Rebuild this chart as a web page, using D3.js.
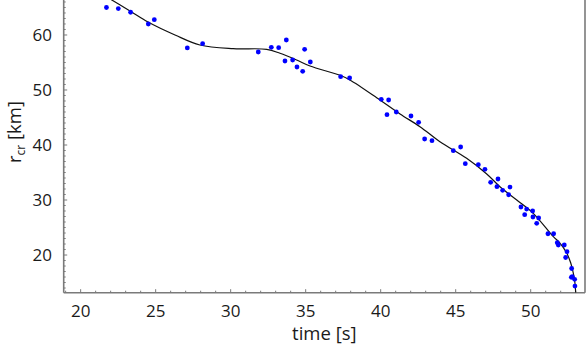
<!DOCTYPE html>
<html><head><meta charset="utf-8">
<script src="https://cdn.jsdelivr.net/npm/d3@7"></script>
<style>
html,body{margin:0;padding:0;background:#fff;}
svg{display:block;}
text{font-family:"Open Sans","Liberation Sans",sans-serif;fill:#1a1a1a;}
</style></head>
<body>
<svg id="c" width="586" height="349"></svg>
<script>
// observed data: time [s]
const times = [21.72,22.51,23.33,24.51,24.91,27.11,28.13,31.84,32.71,33.20,33.71,33.62,34.13,34.42,34.80,34.93,35.31,37.33,37.93,40.04,40.53,40.42,41.04,42.02,42.53,42.93,43.42,44.84,45.33,45.64,46.51,46.95,47.33,47.82,47.75,48.13,48.62,48.53,49.35,49.73,49.60,50.13,50.15,50.53,50.40,51.15,51.53,51.77,51.84,52.24,52.42,52.33,52.73,52.77,52.71,52.93,52.95];
// observed data: r_cr [km]
const radii = [65.0,64.8,64.13,62.0,62.78,57.64,58.42,56.91,57.76,57.69,59.09,55.27,55.45,54.18,53.40,57.40,55.09,52.42,52.18,48.31,48.18,45.51,46.00,45.27,44.13,41.09,40.78,38.96,39.64,36.60,36.42,35.58,33.22,33.82,32.42,31.76,32.36,30.96,28.73,28.36,27.33,28.00,26.91,26.73,25.76,23.87,23.87,22.24,21.82,21.82,20.60,19.55,17.55,16.09,15.95,15.58,14.36];
// fitted curve knots
const fitTimes = [21.69,23.29,24.49,26.29,27.95,30.16,32.40,33.29,34.40,35.29,37.29,37.95,39.95,41.29,42.62,43.95,45.73,47.07,47.95,49.07,50.17,51.51,51.95,52.40,52.67,52.84,52.95,53.00];
const fitRadii = [67.0,64.36,62.36,60.0,58.18,57.51,57.40,56.67,55.45,54.36,52.67,51.82,48.18,45.64,43.33,40.60,37.58,34.73,32.42,30.00,27.58,23.33,22.18,20.36,18.55,16.73,14.91,13.15];
const xTicks = [20,25,30,35,40,45,50];
const yTicks = [20,30,40,50,60];

const svg = d3.select("#c");
const L = 63.7, R = 585, T = 0, B = 292.7;
const x = d3.scaleLinear().domain([18.87, 53.62]).range([L, R]);
const y = d3.scaleLinear().domain([13.15, 66.36]).range([B, T]);
const axisColor = "#7a7a7a";

svg.append("defs").append("clipPath").attr("id","clip")
  .append("rect").attr("x",L).attr("y",T).attr("width",R-L).attr("height",B-T);

// ticks
const g = svg.append("g");
d3.range(19,54).forEach(v=>{
  const major = xTicks.includes(v);
  g.append("line").attr("x1",x(v)).attr("x2",x(v)).attr("y1",B).attr("y2",B-(major?3.5:2))
   .attr("stroke",axisColor).attr("stroke-width",1);
});
d3.range(14,67).forEach(v=>{
  const major = yTicks.includes(v);
  g.append("line").attr("y1",y(v)).attr("y2",y(v)).attr("x1",L).attr("x2",L+(major?3.5:2))
   .attr("stroke",axisColor).attr("stroke-width",1);
});
// frame lines
g.append("line").attr("x1",L).attr("x2",L).attr("y1",T).attr("y2",B).attr("stroke",axisColor).attr("stroke-width",1.6);
g.append("line").attr("x1",L).attr("x2",R).attr("y1",B).attr("y2",B).attr("stroke",axisColor).attr("stroke-width",1.6);
g.append("line").attr("x1",R).attr("x2",R).attr("y1",T).attr("y2",B).attr("stroke",axisColor).attr("stroke-width",1.6);

// tick labels
svg.append("g").selectAll("text").data(xTicks).join("text")
  .attr("x",d=>x(d)).attr("y",317).attr("text-anchor","middle").attr("font-size",17).text(d=>d);
svg.append("g").selectAll("text").data(yTicks).join("text")
  .attr("x",52).attr("y",d=>y(d)+6).attr("text-anchor","end").attr("font-size",17).text(d=>d);

// axis titles
svg.append("text").attr("x",(L+R)/2).attr("y",340).attr("text-anchor","middle").attr("font-size",18.5).text("time [s]");
const yl = svg.append("text").attr("transform","translate(21,132) rotate(-90)").attr("text-anchor","middle").attr("font-size",18.5);
yl.append("tspan").text("r");
yl.append("tspan").attr("font-size",12).attr("dy",4).text("cr");
yl.append("tspan").attr("dy",-4).text(" [km]");

// fitted curve
const line = d3.line().x(d=>x(d[0])).y(d=>y(d[1])).curve(d3.curveCatmullRom.alpha(0.5));
svg.append("path").attr("clip-path","url(#clip)")
  .datum(fitTimes.map((t,i)=>[t,fitRadii[i]]))
  .attr("d",line).attr("fill","none").attr("stroke","#111").attr("stroke-width",1.2);

// data points
svg.append("g").selectAll("circle").data(times.map((t,i)=>[t,radii[i]])).join("circle")
  .attr("cx",d=>x(d[0])).attr("cy",d=>y(d[1])).attr("r",2.4).attr("fill","#0000ff");
</script>
</body></html>
